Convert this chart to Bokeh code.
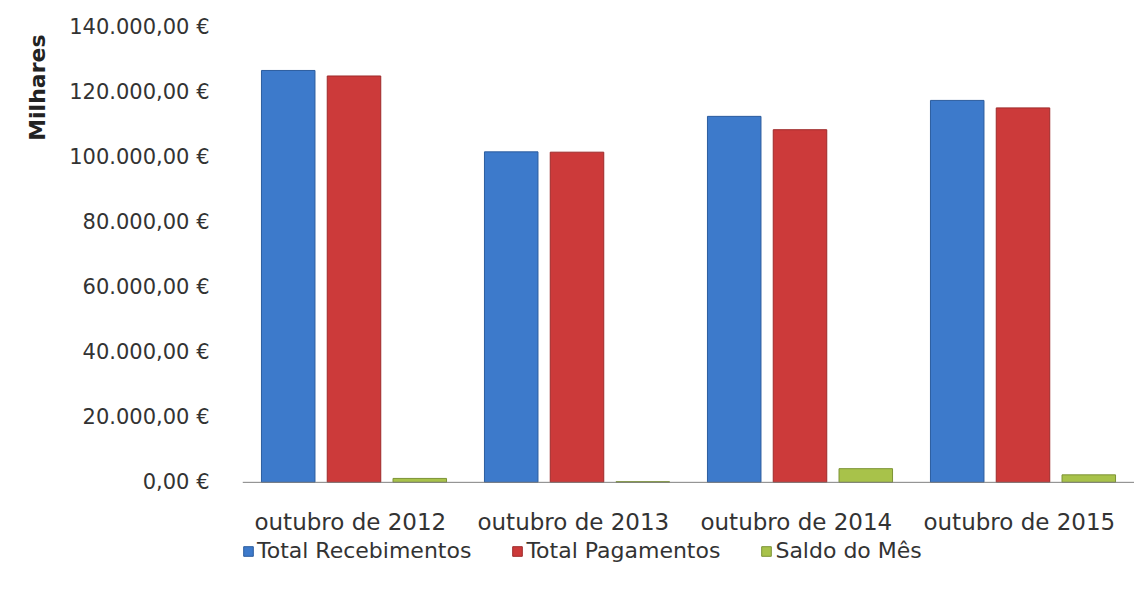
from bokeh.plotting import figure
from bokeh.models import (ColumnDataSource, FactorRange, CustomJSTickFormatter, Legend,
                          LegendItem, Title, Span)
from bokeh.core.properties import value
from bokeh.transform import dodge
from bokeh.embed import file_html
from bokeh.resources import INLINE

categories = ["outubro  de 2012", "outubro  de 2013", "outubro  de 2014", "outubro  de 2015"]
recebimentos = [126500, 101500, 112400, 117300]
pagamentos = [124800, 101400, 108300, 115000]
saldo = [1200, 200, 4200, 2300]
series_names = ["Total Recebimentos", "Total Pagamentos", "Saldo do Mês"]
y_ticks = [0, 20000, 40000, 60000, 80000, 100000, 120000, 140000]

label_y = [-12300] * len(categories)
src = ColumnDataSource(dict(cat=categories, rec=recebimentos, pag=pagamentos, sal=saldo,
                            ly=label_y))

FONT = "DejaVu Sans"

p = figure(x_range=FactorRange(*categories), y_range=(-30150, 140000),
           width=1134, height=585, output_backend="svg", toolbar_location=None,
           min_border_left=242, min_border_top=26, min_border_bottom=5, min_border_right=0)

w = 0.24
r1 = p.vbar(x=dodge("cat", -0.295, range=p.x_range), top="rec", width=w, source=src,
            fill_color="#3D7ACB", line_color="#2B5C9E", line_width=1)
r2 = p.vbar(x=dodge("cat", 0.0, range=p.x_range), top="pag", width=w, source=src,
            fill_color="#CC3A3A", line_color="#9E2A2A", line_width=1)
r3 = p.vbar(x=dodge("cat", 0.295, range=p.x_range), top="sal", width=w, source=src,
            fill_color="#A8C24A", line_color="#7C9335", line_width=1)

p.add_layout(Span(location=0, dimension="width", line_color="#808080", line_width=1))

p.text(x="cat", y="ly", text="cat", source=src, text_align="center", text_baseline="middle",
       text_font=value(FONT), text_font_size="23px", text_color="#333333")

p.xgrid.grid_line_color = None
p.ygrid.grid_line_color = None
p.outline_line_color = None
p.background_fill_color = "white"
p.xaxis.visible = False

p.yaxis.formatter = CustomJSTickFormatter(code="""
const s = Math.round(tick).toString().replace(/\\B(?=(\\d{3})+(?!\\d))/g, '.');
return s + ',00 €';
""")
p.yaxis.ticker = y_ticks
p.yaxis.axis_line_color = None
p.yaxis.major_tick_line_color = None
p.yaxis.minor_tick_line_color = None
p.yaxis.major_label_text_font = FONT
p.yaxis.major_label_text_font_size = "21px"
p.yaxis.major_label_text_color = "#333333"
p.yaxis.major_label_standoff = 27

p.add_layout(Title(text="Milhares", align="right", text_font=FONT, text_font_style="bold",
                   text_font_size="22px", text_color="#222222", standoff=34, offset=8), "left")

legend = Legend(items=[LegendItem(label=series_names[0], renderers=[r1]),
                       LegendItem(label=series_names[1], renderers=[r2]),
                       LegendItem(label=series_names[2], renderers=[r3])],
                orientation="horizontal", location=(0, 17), spacing=40,
                label_text_font=FONT, label_text_font_size="22px", label_text_color="#333333",
                glyph_width=12, glyph_height=12, border_line_color=None,
                background_fill_alpha=0,
                label_standoff=3, padding=2, margin=0)
p.add_layout(legend)

open("out.html", "w").write(file_html(p, INLINE))
